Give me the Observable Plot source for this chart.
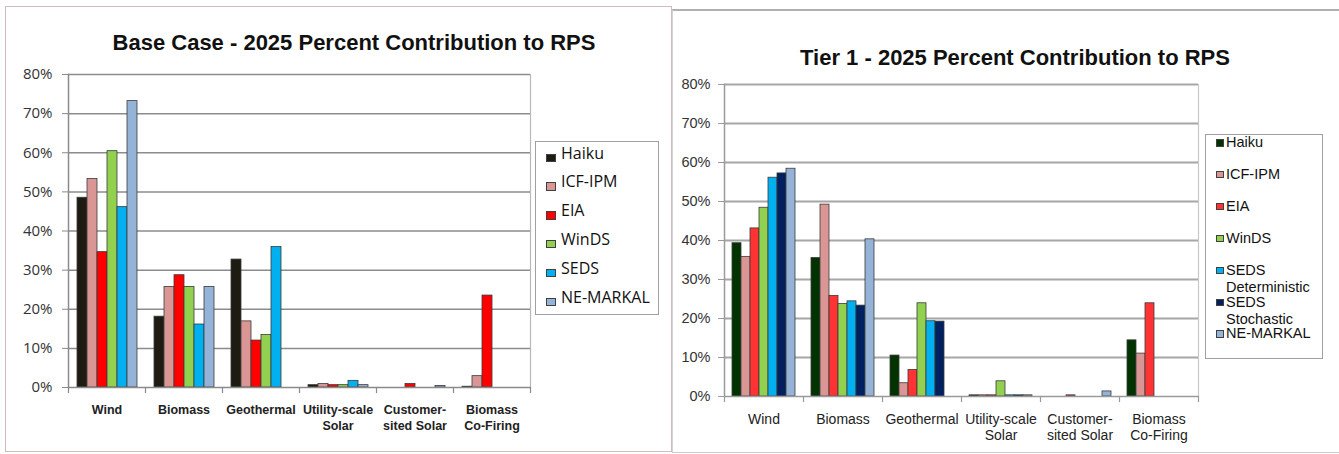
<!DOCTYPE html>
<html>
<head>
<meta charset="utf-8">
<script src="https://cdn.jsdelivr.net/npm/d3@7"></script>
<script src="https://cdn.jsdelivr.net/npm/@observablehq/plot@0.6"></script>
<style>
  html, body { margin: 0; padding: 0; background: #fff; }
  body { position: relative; width: 1339px; height: 454px; overflow: hidden; font-family: "Liberation Sans", Arial, sans-serif; }
  .abs { position: absolute; }
  .title { position: absolute; width: 600px; text-align: center; font-weight: bold; font-size: 22px; line-height: 26px; color: #111; font-family: "Liberation Sans", Arial, sans-serif; }
  .legend { position: absolute; box-sizing: border-box; background: #fff; }
  .item { position: absolute; left: 0; }
  .sw { position: absolute; box-sizing: border-box; }
  .lab { position: absolute; color: #111; white-space: pre; }
</style>
</head>
<body>
<div class="abs" style="left:5px;top:6px;width:667px;height:446px;border:1.5px solid #cdbdbd;box-sizing:border-box;"></div>
<div class="abs" style="left:672px;top:9px;width:680px;height:444px;border-top:2px solid #b0b0b0;border-left:1px solid #d4d4d4;border-bottom:1px solid #cccccc;box-sizing:border-box;"></div>

<div class="title" style="left:54px;top:30px;">Base Case - 2025 Percent Contribution to RPS</div>
<div class="title" style="left:715px;top:45px;">Tier 1 - 2025 Percent Contribution to RPS</div>

<div id="left" class="abs" style="left:0px;top:60px;"></div>
<div id="right" class="abs" style="left:670px;top:70px;"></div>
<div id="legLeft"></div>
<div id="legRight"></div>

<script>
// ---------- data ----------
const categories = ["Wind", "Biomass", "Geothermal", "Utility-scale\nSolar", "Customer-\nsited Solar", "Biomass\nCo-Firing"];
const yTicks = [0, 10, 20, 30, 40, 50, 60, 70, 80];

// Base Case (percent)
const baseSeries = ["Haiku", "ICF-IPM", "EIA", "WinDS", "SEDS", "NE-MARKAL"];
const baseColors = ["#1e1b12", "#d99694", "#ff0000", "#92d050", "#00b0f0", "#95b3d7"];
const baseHaiku = [48.5, 18.1, 32.7, 0.6, 0, 0.2];
const baseICF   = [53.3, 25.7, 16.9, 0.9, 0, 2.9];
const baseEIA   = [34.6, 28.7, 12.0, 0.6, 0.9, 23.5];
const baseWinDS = [60.4, 25.7, 13.4, 0.6, 0, 0];
const baseSEDS  = [46.1, 16.1, 35.9, 1.7, 0, 0];
const baseNE    = [73.2, 25.7, 0, 0.6, 0.4, 0];

// Tier 1 (percent)
const tierSeries = ["Haiku", "ICF-IPM", "EIA", "WinDS", "SEDS Deterministic", "SEDS Stochastic", "NE-MARKAL"];
const tierLegend = ["Haiku", "ICF-IPM", "EIA", "WinDS", "SEDS\nDeterministic", "SEDS\nStochastic", "NE-MARKAL"];
const tierColors = ["#003300", "#d99694", "#ff3333", "#92d050", "#00b0f0", "#002060", "#95b3d7"];
const tierHaiku  = [39.3, 35.5, 10.5, 0.3, 0, 14.4];
const tierICF    = [35.8, 49.2, 3.4, 0.3, 0, 11.0];
const tierEIA    = [43.1, 25.8, 6.8, 0.3, 0.3, 23.9];
const tierWinDS  = [48.4, 23.7, 23.9, 3.9, 0, 0];
const tierSEDSD  = [56.1, 24.4, 19.3, 0.3, 0, 0];
const tierSEDSS  = [57.2, 23.3, 19.2, 0.3, 0, 0];
const tierNE     = [58.4, 40.3, 0, 0.3, 1.3, 0];

// ---------- chart ----------
function panel(o) {
  const rows = [];
  o.series.forEach((s, i) => o.values[i].forEach((v, j) => {
    if (v > 0) rows.push({category: categories[j], series: s, value: v});
  }));
  const innerH = o.height - o.marginTop - o.marginBottom;
  return Plot.plot({
    width: o.width, height: o.height,
    marginLeft: o.marginLeft, marginRight: o.marginRight,
    marginTop: o.marginTop, marginBottom: o.marginBottom,
    style: {background: "none", overflow: "visible", fontFamily: o.fxFont, color: "#222"},
    fx: {domain: categories, padding: 0, label: null},
    x: {domain: o.series, paddingInner: 0, paddingOuter: o.outer, axis: null},
    y: {domain: [0, 80], label: null},
    color: {domain: o.series, range: o.colors},
    marks: [
      Plot.ruleY(yTicks.filter(t => t > 0), {stroke: o.grid, strokeWidth: o.gridWidth}),
      Plot.frame({anchor: "right", facetAnchor: "right", stroke: o.border, strokeWidth: 1.2}),
      Plot.barY(rows, {fx: "category", x: "series", y: "value", fill: "series", stroke: "#3a3a3a", strokeWidth: 0.8}),
      Plot.frame({anchor: "left", facetAnchor: "left", stroke: o.axisColor, strokeWidth: 1.5}),
      Plot.ruleY([0], {stroke: o.axisColor, strokeWidth: 1.6}),
      Plot.frame({anchor: "left", insetTop: innerH, insetBottom: -5, stroke: o.axisColor, strokeWidth: 1.2}),
      Plot.frame({anchor: "right", facetAnchor: "right", insetTop: innerH, insetBottom: -5, stroke: o.axisColor, strokeWidth: 1.2}),
      Plot.axisY({ticks: yTicks, tickFormat: d => d + "%", tickSize: 6, tickPadding: o.yPad,
        stroke: o.axisColor, fontSize: o.ySize, fontFamily: o.yFont, fill: "#333"}),
      Plot.axisFx({anchor: "bottom", tickSize: 0, tickPadding: o.fxPad, lineHeight: o.lineHeight,
        fontSize: o.fxSize, fontWeight: o.fxWeight, fontFamily: o.fxFont, fill: "#222", label: null})
    ]
  });
}

document.getElementById("left").append(panel({
  series: baseSeries, colors: baseColors,
  values: [baseHaiku, baseICF, baseEIA, baseWinDS, baseSEDS, baseNE],
  width: 545, height: 385, marginLeft: 66, marginRight: 13, marginTop: 14, marginBottom: 58,
  outer: 0.68, grid: "#8c8c8c", gridWidth: 1.5, border: "#b8b8b8", axisColor: "#8a8a8a",
  yPad: 10, ySize: 15, yFont: "'Open Sans', sans-serif",
  fxPad: 15, lineHeight: 1.28, fxSize: 12.5, fxWeight: "bold", fxFont: "'Liberation Sans', Arial, sans-serif"
}));

document.getElementById("right").append(panel({
  series: tierSeries, colors: tierColors,
  values: [tierHaiku, tierICF, tierEIA, tierWinDS, tierSEDSD, tierSEDSS, tierNE],
  width: 540, height: 380, marginLeft: 52, marginRight: 10, marginTop: 14, marginBottom: 54,
  outer: 0.7, grid: "#a6a6a6", gridWidth: 2, border: "#c8c8c8", axisColor: "#9a9a9a",
  yPad: 8, ySize: 14.5, yFont: "'Liberation Sans', Arial, sans-serif",
  fxPad: 16, lineHeight: 1.15, fxSize: 14, fxWeight: "normal", fxFont: "'Liberation Sans', Arial, sans-serif"
}));

// ---------- legends (HTML) ----------
function legend(el, o) {
  el.className = "legend";
  Object.assign(el.style, {left: o.left + "px", top: o.top + "px", width: o.w + "px", height: o.h + "px",
    border: o.borderCss, fontFamily: o.font, fontSize: o.size + "px", lineHeight: o.lh + "px"});
  o.labels.forEach((lab, i) => {
    const it = document.createElement("div");
    it.className = "item";
    it.style.top = (o.first + i * o.step) + "px";
    const sw = document.createElement("div");
    sw.className = "sw";
    Object.assign(sw.style, {left: o.swLeft + "px", top: o.swTop + "px", width: o.swW + "px", height: o.swH + "px",
      background: o.colors[i], border: "1px solid #404040"});
    const tx = document.createElement("div");
    tx.className = "lab";
    tx.style.left = o.txLeft + "px";
    tx.style.top = "0px";
    tx.textContent = lab;
    it.append(sw, tx);
    el.append(it);
  });
}

legend(document.getElementById("legLeft"), {
  left: 535, top: 141, w: 124, h: 174, borderCss: "1.5px solid #a0a0a0",
  font: "'Open Sans', sans-serif", size: 16, lh: 20, labels: baseSeries, colors: baseColors,
  first: 0.5, step: 28.8, swLeft: 10, swTop: 11, swW: 10, swH: 8.5, txLeft: 25
});

legend(document.getElementById("legRight"), {
  left: 1205, top: 134, w: 118, h: 225, borderCss: "1.5px solid #a0a0a0",
  font: "'Liberation Sans', Arial, sans-serif", size: 14.5, lh: 17, labels: tierLegend, colors: tierColors,
  first: -1, step: 31.9, swLeft: 10, swTop: 5, swW: 7.5, swH: 7.5, txLeft: 20
});
</script>
</body>
</html>
